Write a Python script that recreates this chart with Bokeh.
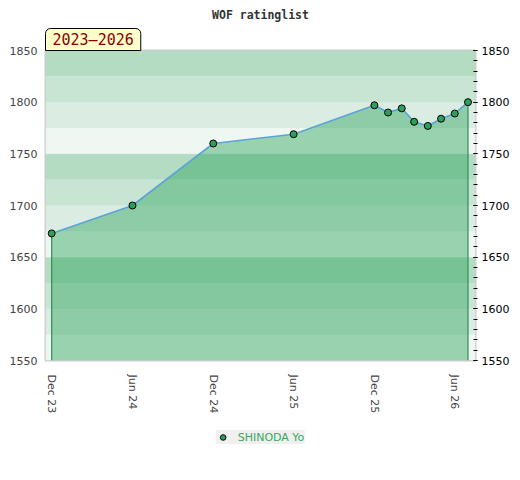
import pandas as pd
from bokeh.plotting import figure
from bokeh.layouts import column
from bokeh.models import (Range1d, LinearAxis, FixedTicker, DatetimeTickFormatter,
                          BoxAnnotation, Title, Legend, LegendItem, ColumnDataSource)
from bokeh.embed import file_html
from bokeh.resources import INLINE

# ---- data ----
dates = ["2023-12-01", "2024-06-01", "2024-12-01", "2025-06-01", "2025-12-01",
         "2026-01-01", "2026-02-01", "2026-03-01", "2026-04-01", "2026-05-01",
         "2026-06-01", "2026-07-01"]
ratings = [1673, 1700, 1760, 1769, 1797, 1790, 1794, 1781, 1777, 1784, 1789, 1800]
player = "SHINODA Yo"
period_label = "2023\u20132026"
title_text = "WOF ratinglist"
tick_dates = ["2023-12-01", "2024-06-01", "2024-12-01", "2025-06-01",
              "2025-12-01", "2026-06-01"]
y_min, y_max = 1550, 1850
x_min, x_max = "2023-11-17", "2026-07-18"

x = pd.to_datetime(dates)
src = ColumnDataSource(dict(x=x, y=ratings, base=[y_min] * len(ratings)))

p = figure(width=520, height=420, output_backend="svg",
           toolbar_location=None, x_axis_type="datetime",
           x_range=Range1d(pd.Timestamp(x_min), pd.Timestamp(x_max)),
           y_range=Range1d(y_min, y_max),
           min_border_left=45, min_border_right=45, min_border_top=50,
           min_border_bottom=60, title=None)

# period box (nearest to the frame) then main title above it
p.add_layout(Title(text=period_label, align="left", text_font="DejaVu Sans Mono",
                   text_font_size="15px", text_font_style="normal",
                   text_color="#8b0000", background_fill_color="#ffffcc",
                   border_line_color="black", border_line_width=1,
                   padding=(7, 2), border_radius=(5, 5, 0, 0),
                   standoff=0, offset=0), "above")
p.add_layout(Title(text=title_text, align="center", text_font="DejaVu Sans Mono",
                   text_font_size="11.5px", text_font_style="bold",
                   text_color="#333333", standoff=10, offset=0), "above")

p.background_fill_color = "white"
p.border_fill_color = "white"
p.outline_line_color = "#cccccc"
p.outline_line_width = 2

# background bands (period 100, four shades)
shades = ["#eef7f1", "#dbede2", "#c8e5d4", "#b3dcc3"]
b = y_min
i = 0
while b < y_max:
    p.add_layout(BoxAnnotation(bottom=b, top=b + 25, fill_color=shades[i % 4],
                               fill_alpha=1, line_alpha=0, level="image"))
    b += 25
    i += 1

# grid
p.xgrid.visible = False
p.ygrid.ticker = FixedTicker(ticks=list(range(y_min, y_max + 1, 50)))
p.ygrid.grid_line_color = "#e4e8e5"
p.ygrid.grid_line_width = 1
p.ygrid.level = "image"

# area, edges, line, markers
p.varea(x="x", y1="base", y2="y", source=src, fill_color="#2ea55f", fill_alpha=0.45)
p.segment(x0=[x[0], x[-1]], y0=[y_min, y_min], x1=[x[0], x[-1]],
          y1=[ratings[0], ratings[-1]], line_color="#2e9050", line_width=1.2)
p.line(x="x", y="y", source=src, line_color="#5ba3d9", line_width=1.6)
marker_style = dict(size=7, fill_color="#2e9e5b", line_color="black", line_width=1)
sc = p.scatter(x="x", y="y", source=src, **marker_style)

# x axis
xa = p.xaxis[0]
xa.ticker = FixedTicker(ticks=[pd.Timestamp(d).value // 10**6 for d in tick_dates])
xa.formatter = DatetimeTickFormatter(days="%b %y", months="%b %y", years="%b %y",
                                     hours="%b %y", minutes="%b %y")
xa.major_label_orientation = "vertical"
xa.major_label_text_font = "DejaVu Sans"
xa.major_label_text_font_size = "11px"
xa.major_label_text_color = "#444444"
xa.axis_line_color = None
xa.major_tick_line_color = None
xa.minor_tick_line_color = None
xa.major_label_standoff = 8

# left y axis
ya = p.yaxis[0]
ya.ticker = FixedTicker(ticks=list(range(y_min, y_max + 1, 50)))
ya.major_label_text_font = "DejaVu Sans"
ya.major_label_text_font_size = "11px"
ya.major_label_text_color = "#444444"
ya.axis_line_color = None
ya.major_tick_line_color = None
ya.minor_tick_line_color = None
ya.major_tick_out = 0
ya.minor_tick_out = 0
ya.major_label_standoff = 8

# right y axis
ra = LinearAxis(ticker=FixedTicker(ticks=list(range(y_min, y_max + 1, 50)),
                                   minor_ticks=list(range(y_min, y_max + 1, 10))))
ra.major_label_text_font = "DejaVu Sans"
ra.major_label_text_font_size = "11px"
ra.major_label_text_color = "black"
ra.axis_line_color = None
ra.major_tick_line_color = "black"
ra.major_tick_in = 2
ra.major_tick_out = 2
ra.minor_tick_line_color = "black"
ra.minor_tick_in = 2
ra.minor_tick_out = 2
ra.major_label_standoff = 4
p.add_layout(ra, "right")

# legend strip below the chart (one hidden sample point so the key glyph is drawn)
p2 = figure(width=520, height=34, output_backend="svg", toolbar_location=None,
            min_border=0, x_range=Range1d(0, 1), y_range=Range1d(0, 1))
p2.axis.visible = False
p2.grid.visible = False
p2.outline_line_color = None
p2.background_fill_color = "white"
p2.border_fill_color = "white"
sc2 = p2.scatter(x=[5], y=[5], **marker_style)
leg = Legend(items=[LegendItem(label=player, renderers=[sc2])], location="center",
             orientation="horizontal", background_fill_color="#f0f0f0",
             background_fill_alpha=1, border_line_color=None,
             label_text_color="#36a862", label_text_font="DejaVu Sans",
             label_text_font_size="11px", glyph_width=14, glyph_height=14,
             padding=4, margin=0, spacing=0, label_standoff=8)
p2.add_layout(leg, "center")

layout = column(p, p2, spacing=0)
open("out.html", "w").write(file_html(layout, INLINE))
